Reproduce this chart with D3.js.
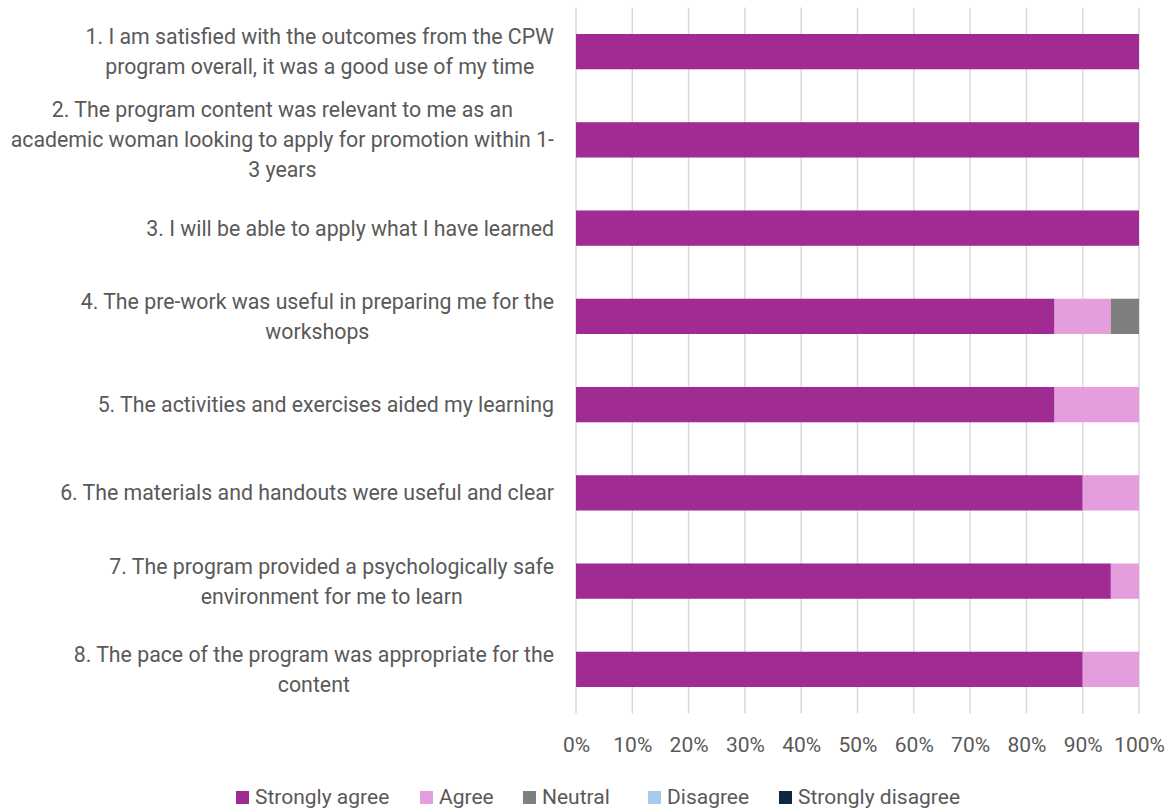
<!DOCTYPE html>
<html><head><meta charset="utf-8">
<script src="https://cdn.jsdelivr.net/npm/d3@7"></script>
<style>
html,body{margin:0;padding:0;background:#fff;}
text{font-family:"Liberation Sans Narrow","Roboto","DejaVu Sans",sans-serif;fill:#595959;}
</style></head>
<body>
<svg id="chart" width="1172" height="811"></svg>
<script>
const categories = [
  ["1. I am satisfied with the outcomes from the CPW", "program overall, it was a good use of my time"],
  ["2. The program content was relevant to me as an", "academic woman looking to apply for promotion within 1-", "3 years"],
  ["3. I will be able to apply what I have learned"],
  ["4. The pre-work was useful in preparing me for the", "workshops"],
  ["5. The activities and exercises aided my learning"],
  ["6. The materials and handouts were useful and clear"],
  ["7. The program provided a psychologically safe", "environment for me to learn"],
  ["8. The pace of the program was appropriate for the", "content"]
];
const seriesNames = ["Strongly agree", "Agree", "Neutral", "Disagree", "Strongly disagree"];
const stronglyAgree = [100, 100, 100, 85, 85, 90, 95, 90];
const agree         = [0, 0, 0, 10, 15, 10, 5, 10];
const neutral       = [0, 0, 0, 5, 0, 0, 0, 0];
const disagree      = [0, 0, 0, 0, 0, 0, 0, 0];
const stronglyDisagree = [0, 0, 0, 0, 0, 0, 0, 0];
const colors = ["#A02B93", "#E59EDD", "#7F7F7F", "#A6CAEC", "#0E2841"];
const tickValues = [0,10,20,30,40,50,60,70,80,90,100];

(function(){
const svg = d3.select("#chart");
const pLeft = 576, pRight = 1139, pTop = 7.5, pBottom = 713.5;
const x = d3.scaleLinear().domain([0,100]).range([pLeft,pRight]);
const idx = categories.map((d,i)=>i);
const y = d3.scaleBand().domain(idx).range([pTop,pBottom]).paddingInner(0.6).paddingOuter(0.3);

svg.append("g").selectAll("line").data(tickValues).join("line")
  .attr("x1", d=>x(d)).attr("x2", d=>x(d)).attr("y1", pTop).attr("y2", pBottom)
  .attr("stroke", "#D9D9D9").attr("stroke-width", 1.5);

const rows = idx.map(i=>({i, "Strongly agree":stronglyAgree[i], "Agree":agree[i], "Neutral":neutral[i], "Disagree":disagree[i], "Strongly disagree":stronglyDisagree[i]}));
const stack = d3.stack().keys(seriesNames)(rows);
svg.append("g").selectAll("g").data(stack).join("g")
  .attr("fill", (d,k)=>colors[k])
  .selectAll("rect").data(d=>d.filter(s=>s[1]-s[0]>0)).join("rect")
  .attr("x", d=>x(d[0])).attr("width", d=>x(d[1])-x(d[0]))
  .attr("y", d=>y(d.data.i)).attr("height", y.bandwidth());

const xAxis = d3.axisBottom(x).tickValues(tickValues).tickFormat(d=>d+"%").tickSize(0).tickPadding(0);
const gx = svg.append("g").attr("transform", `translate(0,${745})`).call(xAxis);
gx.attr("font-family", null).attr("font-size", null);
gx.select(".domain").remove();
gx.selectAll("text").attr("font-size", 21).attr("y", 0).attr("dy", "0.35em");

const labelRight = 554, lh = 30;
const lg = svg.append("g").attr("font-size", 21.3);
categories.forEach((lines, i) => {
  const g = lg.append("g");
  const texts = lines.map((l, j) => g.append("text").text(l));
  const maxW = d3.max(texts, t => t.node().getComputedTextLength());
  const cx = labelRight - maxW/2;
  const cy = y(i) + y.bandwidth()/2;
  const n = lines.length;
  texts.forEach((t, j) => {
    t.attr("x", cx).attr("text-anchor", "middle")
     .attr("y", cy + (j - (n-1)/2)*lh).attr("dy", "0.35em");
  });
});

const legendX = [236, 420, 523, 648, 779];
const lgd = svg.append("g").attr("font-size", 21);
seriesNames.forEach((s,k)=>{
  lgd.append("rect").attr("x", legendX[k]).attr("y", 791).attr("width", 13).attr("height", 13).attr("fill", colors[k]);
  lgd.append("text").attr("x", legendX[k]+19).attr("y", 797).attr("dy","0.35em").text(s);
});
})();
</script>
</body></html>
